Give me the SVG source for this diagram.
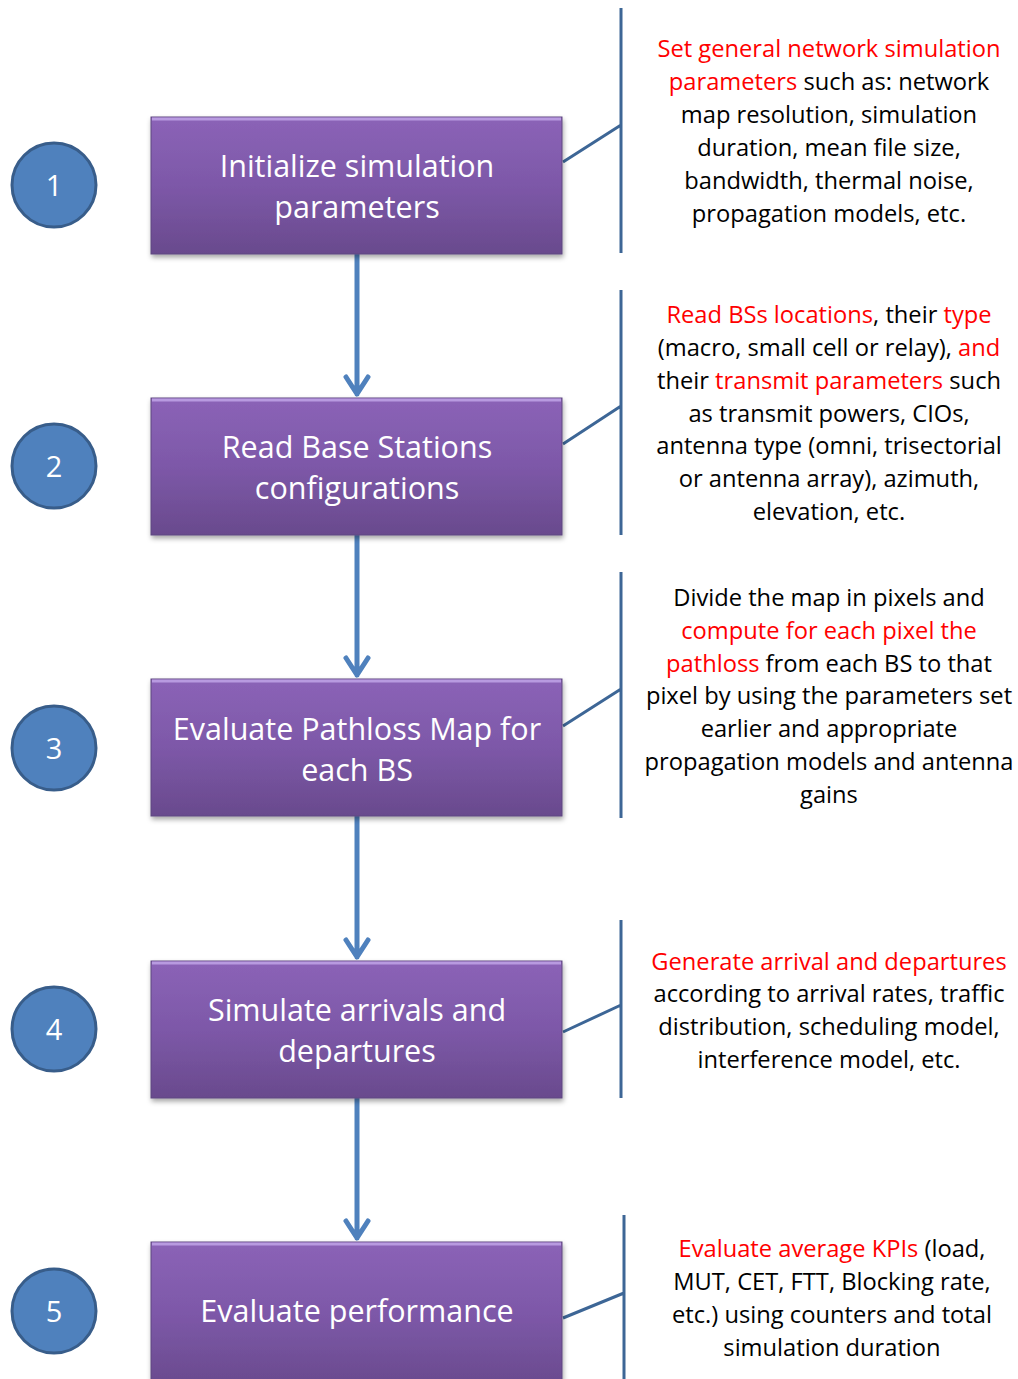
<svg xmlns="http://www.w3.org/2000/svg" width="1018" height="1379" viewBox="0 0 1018 1379">
<defs>
<linearGradient id="boxg" x1="0" y1="0" x2="0" y2="1">
<stop offset="0" stop-color="#8b63b7"/>
<stop offset="0.5" stop-color="#7d58a8"/>
<stop offset="1" stop-color="#694a8d"/>
</linearGradient>
<filter id="sh" x="-10%" y="-10%" width="120%" height="130%">
<feDropShadow dx="1" dy="3" stdDeviation="2.5" flood-color="#000" flood-opacity="0.35"/>
</filter>
<style>
.box{fill:url(#boxg);stroke:#5f4680;stroke-width:1;filter:url(#sh)}
.hl{stroke:#b89ae0;stroke-width:3}
.bt{font-family:"Open Sans","Noto Sans",sans-serif;font-size:30.5px;fill:#fff;text-anchor:middle}
.circ{fill:#4f81bd;stroke:#385d8a;stroke-width:3}
.ct{font-family:"Open Sans","Noto Sans",sans-serif;font-size:29px;fill:#fff;text-anchor:middle}
.br{stroke:#3d6696;stroke-width:3;fill:none}
.ar{stroke:#4f81bd;stroke-width:5;fill:none;stroke-linecap:round;stroke-linejoin:round}
.rt{font-family:"Open Sans","Noto Sans",sans-serif;font-size:23.7px;fill:#000;text-anchor:middle}
.r{fill:#ff0000}
</style>
</defs>
<rect width="1018" height="1379" fill="#fff"/>

<g id="connectors">
<path class="ar" d="M357,254 V394 M346,377 L357,394 L368,377"/>
<path class="ar" d="M357,535 V675 M346,658 L357,675 L368,658"/>
<path class="ar" d="M357,816 V957 M346,940 L357,957 L368,940"/>
<path class="ar" d="M357,1097 V1238 M346,1221 L357,1238 L368,1221"/>
<path class="br" d="M621,8 V253 M563,162 L621,125"/>
<path class="br" d="M621,290 V535 M563,444 L621,406"/>
<path class="br" d="M621,572 V818 M563,726 L621,689"/>
<path class="br" d="M621,920 V1098 M563,1032 L621,1005"/>
<path class="br" d="M624,1215 V1379 M563,1318 L624,1293"/>
</g>

<g id="step1">
<circle class="circ" cx="54" cy="185" r="42"/>
<text class="ct" x="54" y="196">1</text>
</g>
<g id="step2">
<circle class="circ" cx="54" cy="466" r="42"/>
<text class="ct" x="54" y="477">2</text>
</g>
<g id="step3">
<circle class="circ" cx="54" cy="748" r="42"/>
<text class="ct" x="54" y="759">3</text>
</g>
<g id="step4">
<circle class="circ" cx="54" cy="1029" r="42"/>
<text class="ct" x="54" y="1040">4</text>
</g>
<g id="step5">
<circle class="circ" cx="54" cy="1311" r="42"/>
<text class="ct" x="54" y="1322">5</text>
</g>

<g id="box1">
<rect class="box" x="151" y="117" width="411" height="137"/>
<line class="hl" x1="152" y1="119" x2="561" y2="119"/>
<text class="bt" x="357" y="177">Initialize simulation</text>
<text class="bt" x="357" y="218">parameters</text>
</g>
<g id="box2">
<rect class="box" x="151" y="398" width="411" height="137"/>
<line class="hl" x1="152" y1="400" x2="561" y2="400"/>
<text class="bt" x="357" y="458">Read Base Stations</text>
<text class="bt" x="357" y="499">configurations</text>
</g>
<g id="box3">
<rect class="box" x="151" y="679" width="411" height="137"/>
<line class="hl" x1="152" y1="681" x2="561" y2="681"/>
<text class="bt" x="357" y="740">Evaluate Pathloss Map for</text>
<text class="bt" x="357" y="781">each BS</text>
</g>
<g id="box4">
<rect class="box" x="151" y="961" width="411" height="137"/>
<line class="hl" x1="152" y1="963" x2="561" y2="963"/>
<text class="bt" x="357" y="1021">Simulate arrivals and</text>
<text class="bt" x="357" y="1062">departures</text>
</g>
<g id="box5">
<rect class="box" x="151" y="1242" width="411" height="145"/>
<line class="hl" x1="152" y1="1244" x2="561" y2="1244"/>
<text class="bt" x="357" y="1322">Evaluate performance</text>
</g>

<g id="note1">
<text class="rt" x="829" y="57"><tspan class="r">Set general network simulation</tspan></text>
<text class="rt" x="829" y="90"><tspan class="r">parameters</tspan> such as: network</text>
<text class="rt" x="829" y="123">map resolution, simulation</text>
<text class="rt" x="829" y="156">duration, mean file size,</text>
<text class="rt" x="829" y="189">bandwidth, thermal noise,</text>
<text class="rt" x="829" y="222">propagation models, etc.</text>
</g>
<g id="note2">
<text class="rt" x="829" y="323"><tspan class="r">Read BSs locations</tspan>, their <tspan class="r">type</tspan></text>
<text class="rt" x="829" y="356">(macro, small cell or relay), <tspan class="r">and</tspan></text>
<text class="rt" x="829" y="389">their <tspan class="r">transmit parameters</tspan> such</text>
<text class="rt" x="829" y="422">as transmit powers, CIOs,</text>
<text class="rt" x="829" y="454">antenna type (omni, trisectorial</text>
<text class="rt" x="829" y="487">or antenna array), azimuth,</text>
<text class="rt" x="829" y="520">elevation, etc.</text>
</g>
<g id="note3">
<text class="rt" x="829" y="606">Divide the map in pixels and</text>
<text class="rt" x="829" y="639"><tspan class="r">compute for each pixel the</tspan></text>
<text class="rt" x="829" y="672"><tspan class="r">pathloss</tspan> from each BS to that</text>
<text class="rt" x="829" y="704">pixel by using the parameters set</text>
<text class="rt" x="829" y="737">earlier and appropriate</text>
<text class="rt" x="829" y="770">propagation models and antenna</text>
<text class="rt" x="829" y="803">gains</text>
</g>
<g id="note4">
<text class="rt" x="829" y="970"><tspan class="r">Generate arrival and departures</tspan></text>
<text class="rt" x="829" y="1002">according to arrival rates, traffic</text>
<text class="rt" x="829" y="1035">distribution, scheduling model,</text>
<text class="rt" x="829" y="1068">interference model, etc.</text>
</g>
<g id="note5">
<text class="rt" x="832" y="1257"><tspan class="r">Evaluate average KPIs</tspan> (load,</text>
<text class="rt" x="832" y="1290">MUT, CET, FTT, Blocking rate,</text>
<text class="rt" x="832" y="1323">etc.) using counters and total</text>
<text class="rt" x="832" y="1356">simulation duration</text>
</g>
</svg>
